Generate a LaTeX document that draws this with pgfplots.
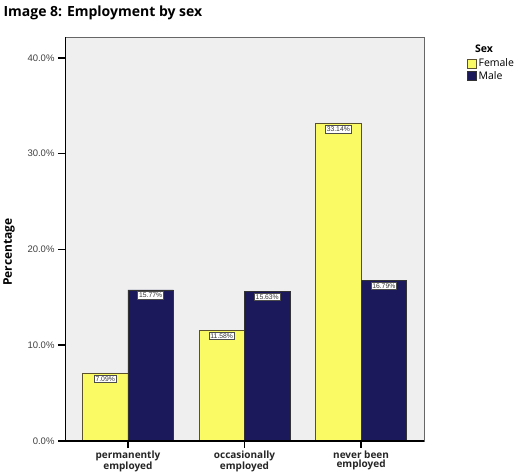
\documentclass[border=0pt]{standalone}
\usepackage{fontspec}
\setmainfont{Liberation Sans}
\newfontfamily\titlefont{Open Sans}
\usepackage{pgfplots}
\pgfplotsset{compat=1.18}
\definecolor{barY}{RGB}{250,250,100}
\definecolor{barN}{RGB}{27,24,92}
\definecolor{bg}{RGB}{239,239,239}
\definecolor{edgeY}{RGB}{90,80,45}
\begin{document}
\begin{tikzpicture}
\useasboundingbox[fill=white] (0,0) rectangle (517bp,476bp);
\begin{axis}[
  at={(65bp,35bp)}, anchor=south west,
  scale only axis, width=359bp, height=404bp,
  xmin=-0.54, xmax=2.54, ymin=0, ymax=42.19,
  ybar=0pt, bar width=45.5bp,
  axis background/.style={fill=bg},
  axis line style={draw=black!60, line width=0.8bp},
  xtick={0,1,2},
  xticklabels={permanently\\employed, occasionally\\employed, never been\\employed},
  xticklabel style={align=center, font=\titlefont\bfseries\fontsize{10bp}{9.5bp}\selectfont, text=black!85, yshift=1bp},
  ytick={0,10,20,30,40},
  yticklabel={\pgfmathprintnumber[fixed,fixed zerofill,precision=1]{\tick}\%},
  yticklabel style={font=\fontsize{9.5bp}{10bp}\selectfont, text=black!75},
  /pgf/number format/assume math mode=true,
  tick align=outside, tick pos=left,
  major tick length=7bp,
  tick style={black, line width=1.5bp},
  nodes near coords={\pgfmathprintnumber[fixed,fixed zerofill,precision=2,assume math mode=true]{\pgfplotspointmeta}\%},
  nodes near coords style={anchor=north, yshift=-1.5bp, fill=white, draw=black!70, inner sep=1.3bp, font=\fontsize{6.8bp}{7bp}\selectfont, text=black!80},
  legend style={at={(rel axis cs:1.12,0.95)}, anchor=north west, draw=none, fill=none, font=\titlefont\fontsize{10.5bp}{11bp}\selectfont, row sep=0bp, inner sep=0bp, nodes={inner sep=1.5bp}},
  legend cell align=left,
  legend image code/.code={\draw[#1] (0bp,-4.5bp) rectangle (9bp,4.5bp);},
]
\addplot[fill=barY, draw=edgeY, line width=0.8bp] coordinates {(0,7.09) (1,11.58) (2,33.14)};
\addplot[fill=barN, draw=black!80, line width=0.8bp] coordinates {(0,15.77) (1,15.63) (2,16.79)};
\legend{Female, Male}
\draw[black, line width=1.2bp] (rel axis cs:0,0) -- (rel axis cs:0,1);
\draw[black, line width=1.2bp] (rel axis cs:0,0) -- (rel axis cs:1,0);
\end{axis}
\node[anchor=west, font=\titlefont\bfseries\fontsize{14bp}{16bp}\selectfont] at (0bp,463bp) {Image 8: Employment by sex};
\node[rotate=90, font=\titlefont\bfseries\fontsize{12bp}{14bp}\selectfont] at (9bp,224bp) {Percentage};
\node[font=\titlefont\bfseries\fontsize{10.5bp}{12bp}\selectfont] at (484bp,427bp) {Sex};
\end{tikzpicture}
\end{document}
